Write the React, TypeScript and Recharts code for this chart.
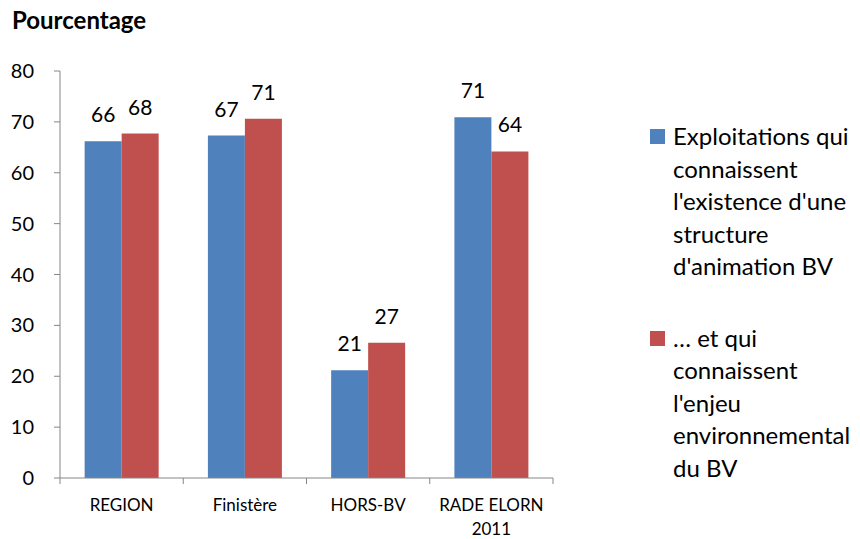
import { BarChart, Bar, XAxis, YAxis, LabelList, Legend } from 'recharts'

const categories = ['REGION', 'Finistère', 'HORS-BV', 'RADE ELORN 2011']
const structureValues = [66.2, 67.3, 21.2, 70.9]
const enjeuValues = [67.7, 70.6, 26.6, 64.2]
const yTicks = [0, 10, 20, 30, 40, 50, 60, 70, 80]
const seriesNames = [
  "Exploitations qui connaissent l'existence d'une structure d'animation BV",
  '… et qui connaissent l\'enjeu environnemental du BV',
]
const legendLines = [
  ['Exploitations qui', 'connaissent', "l'existence d'une", 'structure', "d'animation BV"],
  ['… et qui', 'connaissent', "l'enjeu", 'environnemental', 'du BV'],
]

const data = categories.map((name, i) => ({
  name,
  structure: structureValues[i],
  enjeu: enjeuValues[i],
}))

const FONT = 'Lato, "Open Sans", sans-serif'
const AXIS = '#868686'

const CategoryTick = ({ x, y, payload, index, visibleTicksCount }: any) => {
  const half = payload.offset ?? 0
  const words = String(payload.value).split(' ')
  const lines =
    String(payload.value).length > 12
      ? [words.slice(0, -1).join(' '), words[words.length - 1]]
      : [payload.value]
  return (
    <g>
      <line x1={x - half} y1={y} x2={x - half} y2={y + 6} stroke={AXIS} />
      {index === visibleTicksCount - 1 && (
        <line x1={x + half} y1={y} x2={x + half} y2={y + 6} stroke={AXIS} />
      )}
      <text x={x} y={y} textAnchor="middle" fontFamily={FONT} fontSize={17} fill="#000">
        {lines.map((l, i) => (
          <tspan key={i} x={x} dy={i === 0 ? 33 : 24}>
            {l}
          </tspan>
        ))}
      </text>
    </g>
  )
}

const LegendContent = ({ payload }: any) => (
  <div style={{ fontFamily: FONT, fontSize: 24, color: '#000' }}>
    {(payload || []).map((entry: any, i: number) => (
      <div key={i} style={{ position: 'relative', paddingLeft: 23, marginTop: i === 0 ? 0 : 39 }}>
        <div
          style={{
            position: 'absolute',
            left: 0,
            top: 9,
            width: 15,
            height: 15,
            background: entry.color,
          }}
        />
        {legendLines[i].map((l, j) => (
          <div key={j} style={{ lineHeight: '32.5px', whiteSpace: 'nowrap' }}>
            {l}
          </div>
        ))}
      </div>
    ))}
  </div>
)

export default function App() {
  return (
    <div style={{ position: 'relative', width: 860, height: 539, background: '#fff' }}>
      <style>{'body{margin:0}'}</style>
      <div
        style={{
          position: 'absolute',
          left: 12,
          top: 5,
          fontFamily: FONT,
          fontWeight: 'bold',
          fontSize: 24,
          zIndex: 2,
        }}
      >
        Pourcentage
      </div>
      <BarChart
        width={860}
        height={539}
        data={data}
        margin={{ top: 71, right: 307, left: 0, bottom: 21 }}
        barCategoryGap="20%"
        barGap={0}
      >
        <XAxis
          dataKey="name"
          height={40}
          stroke={AXIS}
          tickLine={false}
          tickSize={0}
          tickMargin={0}
          tick={<CategoryTick />}
          interval={0}
        />
        <YAxis
          width={60}
          domain={[0, 80]}
          ticks={yTicks}
          stroke={AXIS}
          tickSize={6}
          tickMargin={20}
          tick={{ fill: '#000', fontSize: 20, fontFamily: FONT }}
          interval={0}
        />
        <Legend
          layout="horizontal"
          verticalAlign="middle"
          align="center"
          content={<LegendContent />}
          wrapperStyle={{ left: 650, top: 120, width: 210 }}
        />
        <Bar dataKey="structure" name={seriesNames[0]} fill="#4F81BD" isAnimationActive={false}>
          <LabelList
            dataKey="structure"
            position="top"
            offset={19}
            formatter={(v: any) => Math.round(v)}
            style={{ fill: '#000', fontSize: 21, fontFamily: FONT }}
          />
        </Bar>
        <Bar dataKey="enjeu" name={seriesNames[1]} fill="#C0504D" isAnimationActive={false}>
          <LabelList
            dataKey="enjeu"
            position="top"
            offset={19}
            formatter={(v: any) => Math.round(v)}
            style={{ fill: '#000', fontSize: 21, fontFamily: FONT }}
          />
        </Bar>
      </BarChart>
    </div>
  )
}
